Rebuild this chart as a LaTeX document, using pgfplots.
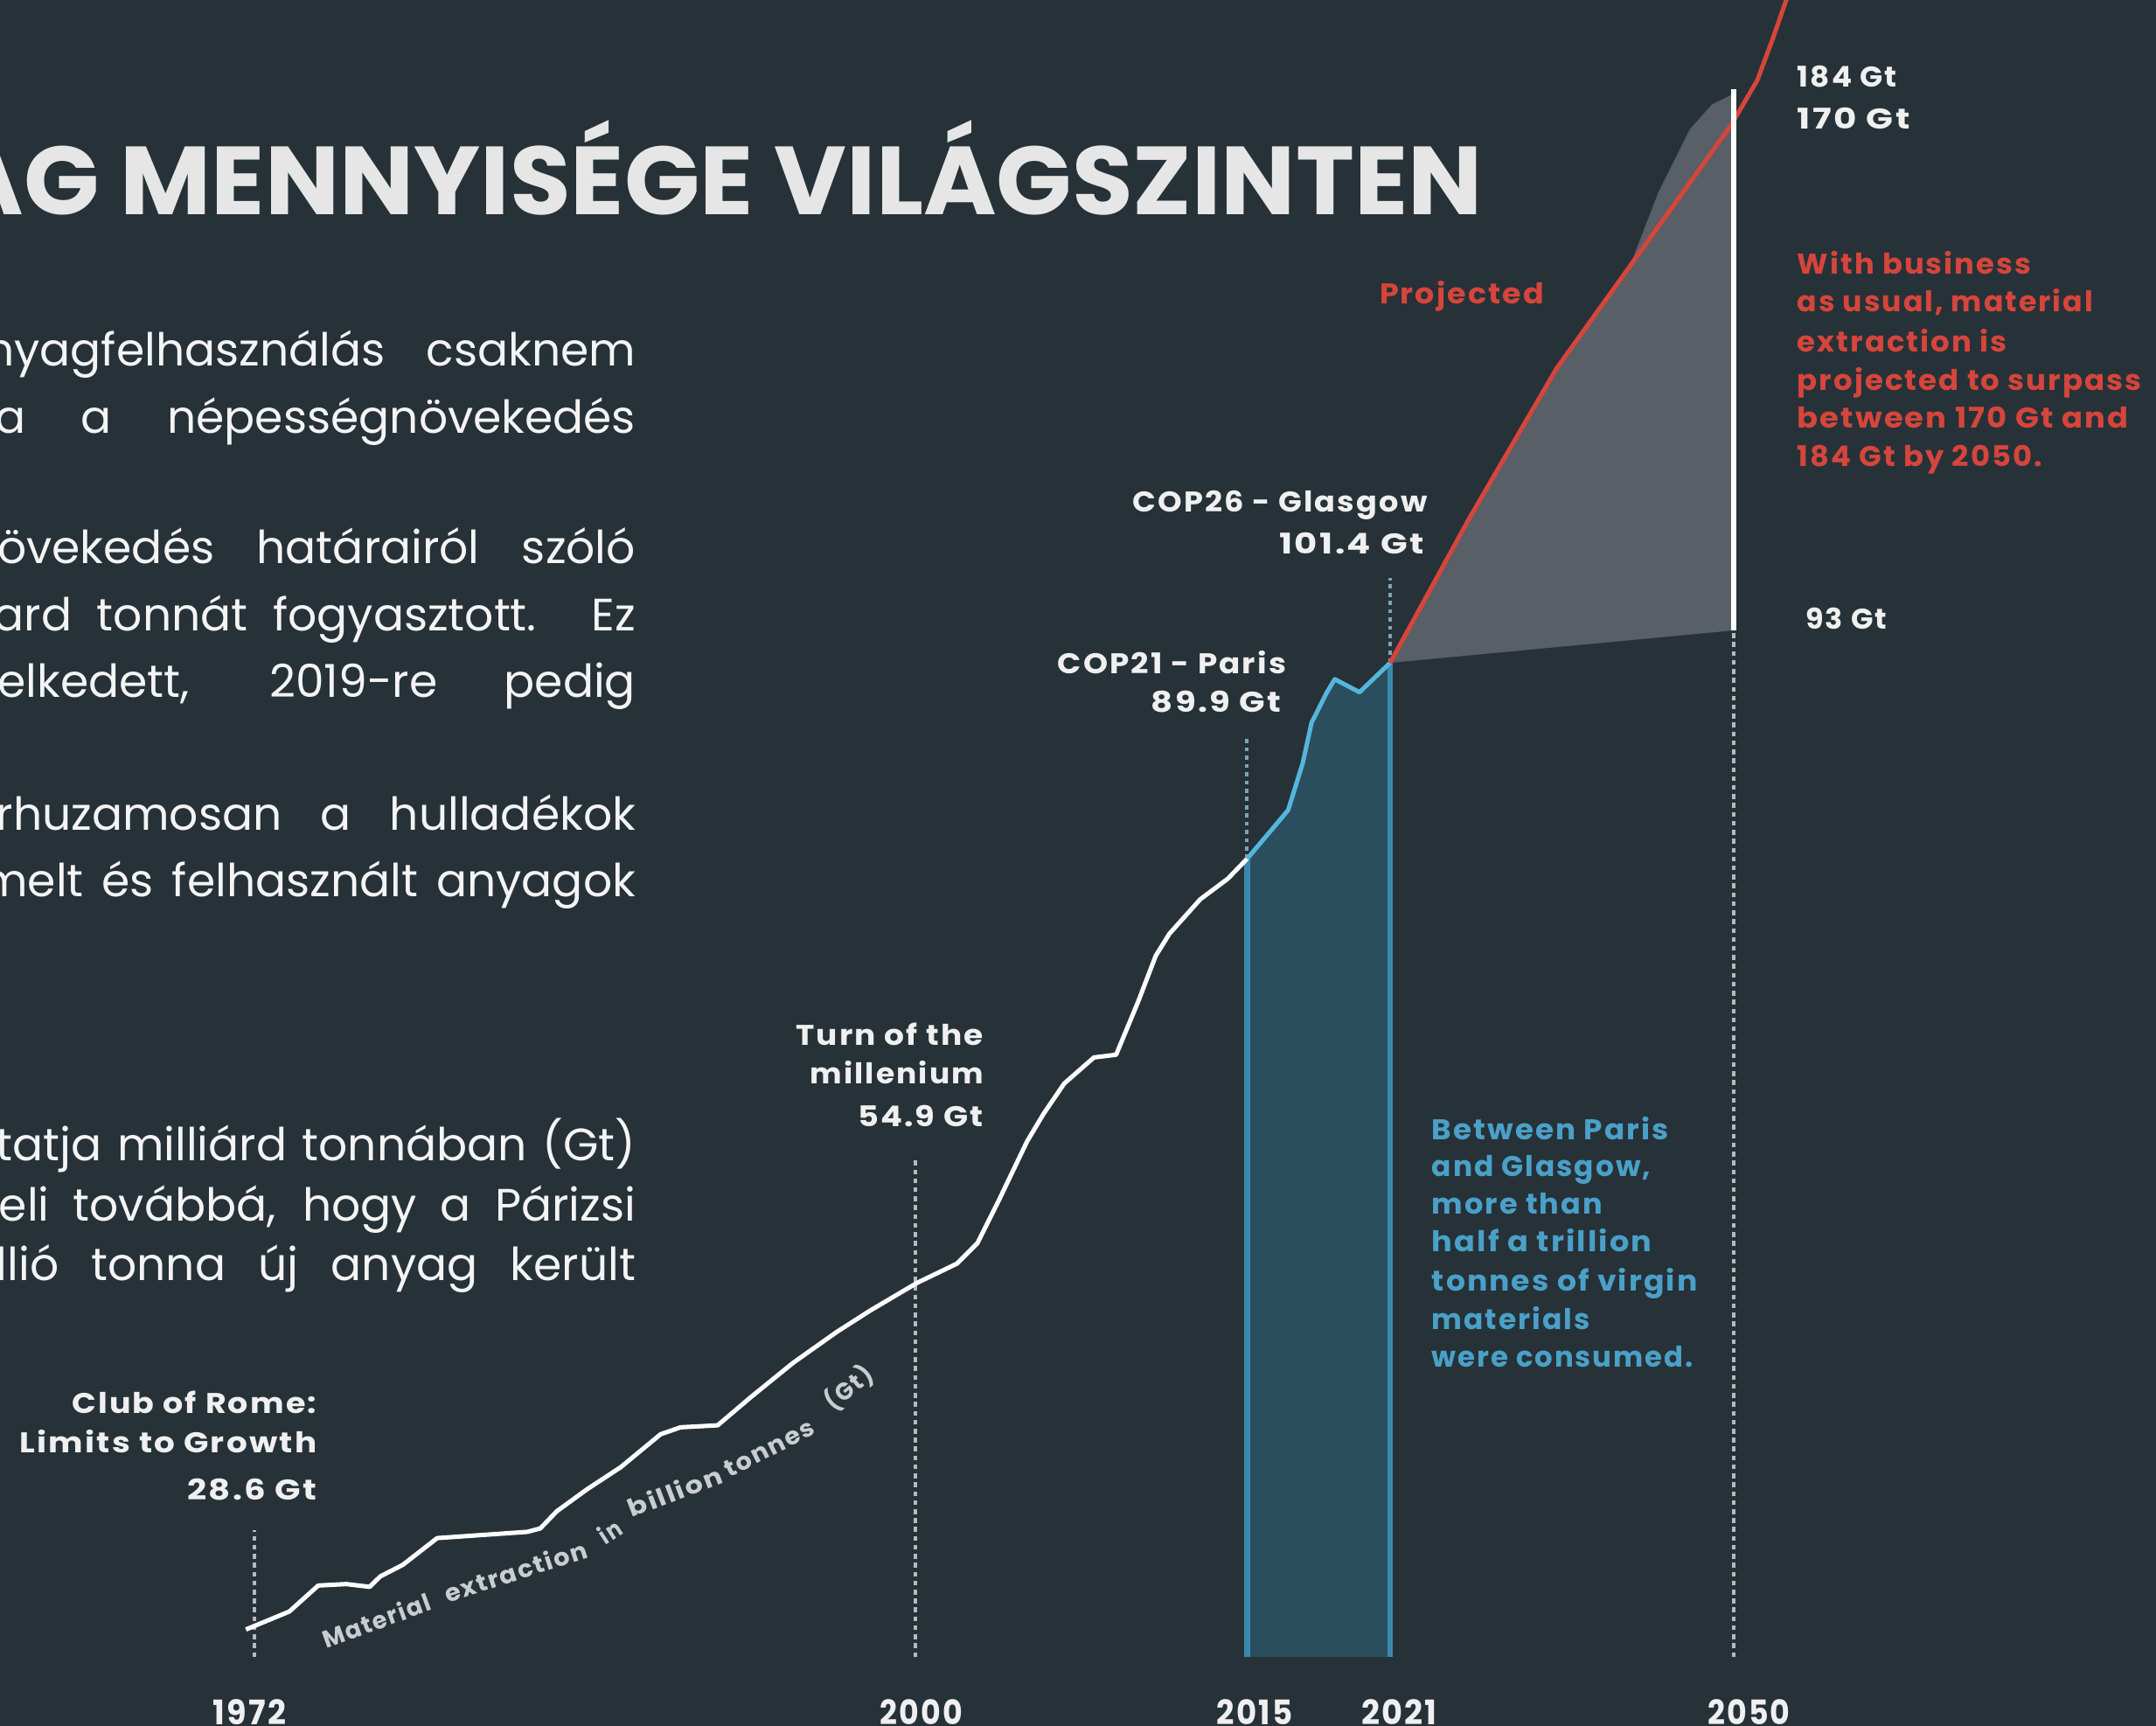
\documentclass[border=0pt]{standalone}
\usepackage{fontspec}
\usepackage{graphicx}
\usepackage{pgfplots}
\pgfplotsset{compat=1.18}
\setmainfont{Poppins}
\newfontfamily\labfont{Poppins}[LetterSpace=6]
\newfontfamily\matfont{Poppins}[LetterSpace=6]
\definecolor{bg}{HTML}{263238}
\definecolor{ttl}{HTML}{E6E6E6}
\definecolor{txt}{HTML}{F4F4F4}
\definecolor{lab}{HTML}{F0F0F0}
\definecolor{projred}{HTML}{D6453B}
\definecolor{blutxt}{HTML}{4AA0C8}
\definecolor{bluline}{HTML}{55B6DD}
\definecolor{band}{HTML}{2B4E5F}
\definecolor{bandedge}{HTML}{3A88AE}
\definecolor{wedge}{HTML}{585F66}
\definecolor{dots}{HTML}{B4BABE}
\definecolor{bdots}{HTML}{7FA3B5}
\definecolor{matc}{HTML}{C9CDD0}
\newsavebox\fitbox
\newlength\fitlen
\newcommand\fitw[2]{\sbox\fitbox{#2}\setlength\fitlen{\wd\fitbox}\pgfmathsetmacro\fitsx{#1/\fitlen}\scalebox{\fitsx}[1]{\usebox\fitbox}}
\newcommand\labf{\labfont\bfseries\fontsize{5.9}{7}\selectfont}
\newcommand\yearf{\labfont\bfseries\fontsize{7}{8}\selectfont}
\newcommand\bodyf{\fontsize{9.4}{11}\selectfont}
\newcommand\titlef{\bfseries\fontsize{20}{22}\selectfont}
\newcommand\matf{\matfont\bfseries\fontsize{5.0}{6}\selectfont}
\newcommand\bline[3]{\node[anchor=base east, inner sep=0, text=txt] at (463,#1) {\bodyf\makebox[#2][s]{#3}};}
\newsavebox\tbox
\newlength\tlen
\begin{document}
\sbox\tbox{\titlef G MENNYISÉGE VILÁGSZINTEN}\setlength\tlen{\wd\tbox}%
\pgfmathsetmacro\tsx{106.1mm/\tlen}%
\begin{tikzpicture}
\useasboundingbox (0,0) rectangle (156.8mm,125.5mm);
\clip (0,0) rectangle (156.8mm,125.5mm);
\fill[bg] (0,0) rectangle (156.8mm,125.5mm);
% x: year; the projection part (after 2021) is drawn compressed as in the original:
% 2050 sits at x=2035.83
\begin{axis}[
  at={(0,0)}, anchor=south west,
  scale only axis, width=156.8mm, height=125.5mm,
  xmin=1961.03, xmax=2054.04, ymin=21.35, ymax=151.27,
  hide axis, clip=true,
]
% Paris-Glasgow band
\addplot[draw=none, fill=band] coordinates {(2014.83,26.53) (2014.83,86.62) (2016.60,90.28) (2017.23,93.82) (2017.61,96.86) (2018.24,99.05) (2018.61,100.14) (2019.68,99.16) (2021,101.37) (2021,26.53)};
\addplot[bandedge, line width=0.4mm] coordinates {(2014.83,26.53) (2014.83,86.62)};
\addplot[bandedge, line width=0.4mm] coordinates {(2021,26.53) (2021,101.37)};
% projected range wedge
\addplot[draw=none, fill=wedge] coordinates {(2021,101.37) (2024.38,112.14) (2028.18,123.53) (2031.32,131.14) (2032.57,136.78) (2033.93,141.54) (2034.88,143.40) (2035.83,144.23) (2035.83,103.81)};
% dotted markers
\addplot[dots, line width=0.24mm, dash pattern=on 0.35mm off 0.3mm] coordinates {(1972,26.53) (1972,36.05)};
\addplot[dots, line width=0.24mm, dash pattern=on 0.35mm off 0.3mm] coordinates {(2000.53,26.53) (2000.53,64.11)};
\addplot[bdots, line width=0.25mm, dash pattern=on 0.3mm off 0.3mm] coordinates {(2014.83,86.62) (2014.83,95.68)};
\addplot[bdots, line width=0.25mm, dash pattern=on 0.3mm off 0.3mm] coordinates {(2021,101.37) (2021,107.79)};
\addplot[dots, line width=0.24mm, dash pattern=on 0.35mm off 0.3mm] coordinates {(2035.83,26.53) (2035.83,103.81)};
% historic extraction
\addplot[white, line width=0.32mm, line join=round] coordinates {(1971.64,28.60) (1973.51,29.95) (1974.76,31.91) (1975.97,32.02) (1976.98,31.81) (1977.43,32.59) (1978.41,33.47) (1979.89,35.48) (1983.78,35.95) (1984.34,36.21) (1985.05,37.50) (1986.36,39.16) (1987.81,40.82) (1989.53,43.30) (1990.39,43.82) (1991.99,43.97) (1993.42,46.09) (1995.25,48.68) (1997.12,50.99) (1998.58,52.62) (2000.59,54.69) (2002.31,56.14) (2003.20,57.69) (2004.06,60.69) (2005.34,65.35) (2006.05,67.42) (2006.94,69.70) (2008.22,71.66) (2009.18,71.87) (2010.14,75.91) (2010.89,79.32) (2011.48,80.98) (2012.81,83.57) (2014.00,85.12) (2014.83,86.62)};
\addplot[bluline, line width=0.32mm, line join=round] coordinates {(2014.83,86.62) (2016.60,90.28) (2017.23,93.82) (2017.61,96.86) (2018.24,99.05) (2018.61,100.14) (2019.68,99.16) (2021,101.37)};
% projection
\addplot[projred, line width=0.32mm, line join=round] coordinates {(2021,101.37) (2024.38,112.14) (2028.18,123.53) (2035.71,141.85) (2036.84,145.23) (2037.49,148.27) (2038.09,151.27) (2038.62,153.34)};
\addplot[white, line width=0.4mm] coordinates {(2035.83,103.81) (2035.83,144.54)};
\end{axis}
\begin{scope}[shift={(0mm,125.5mm)}, x=0.1mm, y=-0.1mm]
% title
\node[anchor=base east, inner sep=0, text=ttl] at (1079,156) {\scalebox{\tsx}[1]{\titlef AG MENNYISÉGE VILÁGSZINTEN}};
% body text (cut at left edge)
\bline{266}{47.3mm}{nyagfelhasználás csaknem}
\bline{315}{46.6mm}{a a népességnövekedés}
\bline{410}{46.4mm}{övekedés határairól szóló}
\bline{459}{46.7mm}{ard tonnát fogyasztott. Ez}
\bline{507}{46.4mm}{elkedett, 2019-re pedig}
\bline{604}{46.5mm}{rhuzamosan a hulladékok}
\bline{652}{47.6mm}{melt és felhasznált anyagok}
\bline{844}{46.5mm}{tatja milliárd tonnában (Gt)}
\bline{888}{46.3mm}{eli továbbá, hogy a Párizsi}
\bline{931}{46.5mm}{llió tonna új anyag került}
% event labels
\begin{scope}[every node/.style={anchor=base east, inner sep=0, text=lab}]
\node at (1038.7,372) {\labf\fitw{21.4mm}{COP26 - Glasgow}};
\node at (1036.2,402.5) {\labf\fitw{10.5mm}{101.4 Gt}};
\node at (936,490) {\labf\fitw{16.6mm}{COP21 - Paris}};
\node at (932.5,518) {\labf\fitw{9.45mm}{89.9 Gt}};
\node at (716,760) {\labf\fitw{13.65mm}{Turn of the}};
\node at (716,788) {\labf\fitw{12.6mm}{millenium}};
\node at (716,819) {\labf\fitw{9.15mm}{54.9 Gt}};
\node at (231,1028) {\labf\fitw{17.8mm}{Club of Rome:}};
\node at (231,1056.6) {\labf\fitw{21.6mm}{Limits to Growth}};
\node at (231,1090.5) {\labf\fitw{9.4mm}{28.6 Gt}};
\end{scope}
\begin{scope}[every node/.style={anchor=base west, inner sep=0, text=lab}]
\node at (1306.4,63.3) {\labf\fitw{7.25mm}{184 Gt}};
\node at (1306.4,94) {\labf\fitw{8.2mm}{170 Gt}};
\node at (1312.6,457.4) {\labf\fitw{5.9mm}{93 Gt}};
\end{scope}
\node[anchor=base west, inner sep=0, text=projred] at (1002.7,221) {\labf\fitw{11.95mm}{Projected}};
\begin{scope}[every node/.style={anchor=base west, inner sep=0, text=projred}]
\node at (1306.4,199.5) {\labf\fitw{17.0mm}{With business}};
\node at (1306.4,227) {\labf\fitw{21.5mm}{as usual, material}};
\node at (1306.4,256) {\labf\fitw{15.25mm}{extraction is}};
\node at (1306.4,283.9) {\labf\fitw{25.06mm}{projected to surpass}};
\node at (1306.4,311.4) {\labf\fitw{24.1mm}{between 170 Gt and}};
\node at (1306.4,339) {\labf\fitw{17.8mm}{184 Gt by 2050.}};
\end{scope}
\begin{scope}[every node/.style={anchor=base west, inner sep=0, text=blutxt}]
\node at (1040.7,828.7) {\labf\fitw{17.2mm}{Between Paris}};
\node at (1040.7,855.2) {\labf\fitw{15.9mm}{and Glasgow,}};
\node at (1040.7,882.8) {\labf\fitw{12.4mm}{more than}};
\node at (1040.7,910.3) {\labf\fitw{16.0mm}{half a trillion}};
\node at (1040.7,938.9) {\labf\fitw{19.3mm}{tonnes of virgin}};
\node at (1040.7,966.5) {\labf\fitw{11.5mm}{materials}};
\node at (1040.7,994) {\labf\fitw{19.0mm}{were consumed.}};
\end{scope}
% year labels
\begin{scope}[every node/.style={anchor=base, inner sep=0, text=lab}]
\node at (181.5,1254) {\yearf\fitw{5.3mm}{1972}};
\node at (670,1254) {\yearf\fitw{6.0mm}{2000}};
\node at (912.5,1254) {\yearf\fitw{5.5mm}{2015}};
\node at (1017.5,1254) {\yearf\fitw{5.5mm}{2021}};
\node at (1272,1254) {\yearf\fitw{6.0mm}{2050}};
\end{scope}
% caption along the curve, piece by piece
\begin{scope}[every node/.style={anchor=base west, inner sep=0, text=matc}]
\node[rotate=20] at (237,1199) {\matf\fitw{8.2mm}{Material}};
\node[rotate=18] at (325,1166) {\matf\fitw{10.8mm}{extraction}};
\node[rotate=33] at (440,1124) {\matf\fitw{1.6mm}{in}};
\node[rotate=21] at (459,1104) {\matf\fitw{7.2mm}{billion}};
\node[rotate=27] at (530,1075) {\matf\fitw{7.1mm}{tonnes}};
\node[rotate=40] at (606,1027) {\matf\fitw{3.9mm}{(Gt)}};
\end{scope}
\end{scope}
\end{tikzpicture}
\end{document}
